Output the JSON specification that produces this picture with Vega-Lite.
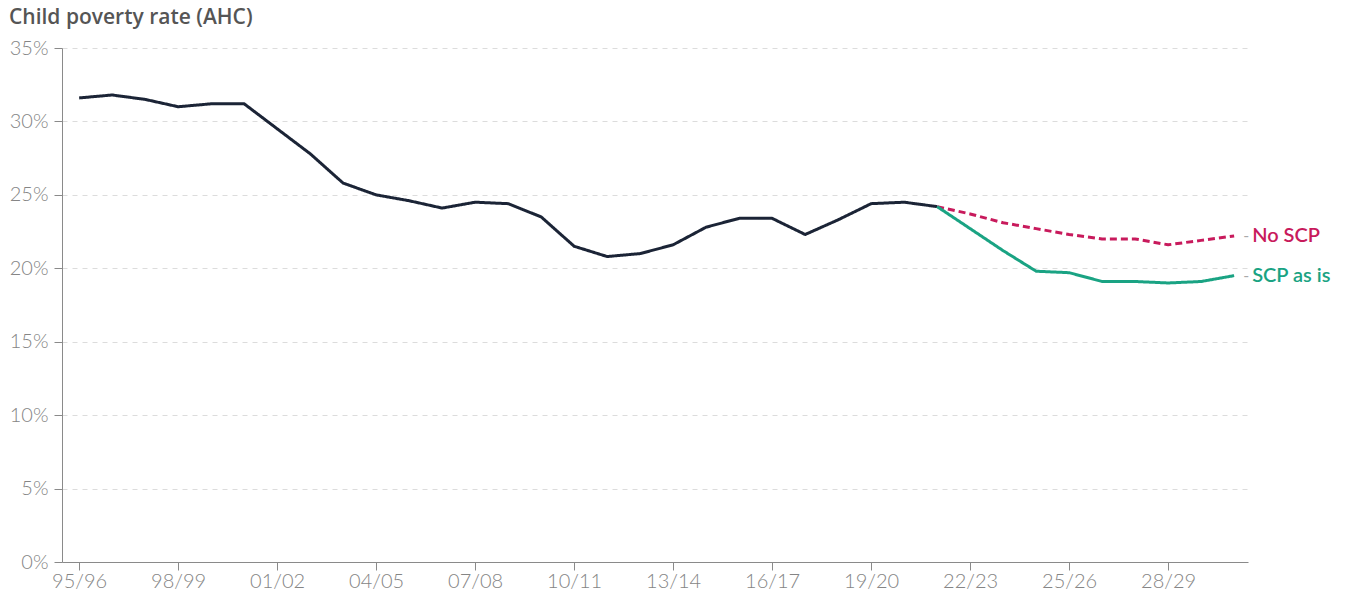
{
  "$schema": "https://vega.github.io/schema/vega-lite/v6.json",
  "autosize": {"type": "none"},
  "padding": {"left": 62, "top": 48, "right": 99, "bottom": 35},
  "width": 1186,
  "height": 514,
  "background": "white",
  "title": {
    "text": "Child poverty rate (AHC)",
    "anchor": "start",
    "frame": "group",
    "dx": -53,
    "offset": 10,
    "font": "Open Sans",
    "fontSize": 21,
    "fontWeight": 600,
    "color": "#555555"
  },
  "config": {
    "view": {"stroke": null},
    "axis": {
      "labelFont": "Lato",
      "labelFontWeight": 300,
      "labelFontSize": 20,
      "labelColor": "#858585",
      "domainColor": "#8a8a8a",
      "tickColor": "#8a8a8a",
      "tickSize": 8,
      "title": null
    }
  },
  "data": {
    "values": [
      {"year": 1995, "series": "Historic", "value": 31.6},
      {"year": 1996, "series": "Historic", "value": 31.8},
      {"year": 1997, "series": "Historic", "value": 31.5},
      {"year": 1998, "series": "Historic", "value": 31.0},
      {"year": 1999, "series": "Historic", "value": 31.2},
      {"year": 2000, "series": "Historic", "value": 31.2},
      {"year": 2001, "series": "Historic", "value": 29.5},
      {"year": 2002, "series": "Historic", "value": 27.8},
      {"year": 2003, "series": "Historic", "value": 25.8},
      {"year": 2004, "series": "Historic", "value": 25.0},
      {"year": 2005, "series": "Historic", "value": 24.6},
      {"year": 2006, "series": "Historic", "value": 24.1},
      {"year": 2007, "series": "Historic", "value": 24.5},
      {"year": 2008, "series": "Historic", "value": 24.4},
      {"year": 2009, "series": "Historic", "value": 23.5},
      {"year": 2010, "series": "Historic", "value": 21.5},
      {"year": 2011, "series": "Historic", "value": 20.8},
      {"year": 2012, "series": "Historic", "value": 21.0},
      {"year": 2013, "series": "Historic", "value": 21.6},
      {"year": 2014, "series": "Historic", "value": 22.8},
      {"year": 2015, "series": "Historic", "value": 23.4},
      {"year": 2016, "series": "Historic", "value": 23.4},
      {"year": 2017, "series": "Historic", "value": 22.3},
      {"year": 2018, "series": "Historic", "value": 23.3},
      {"year": 2019, "series": "Historic", "value": 24.4},
      {"year": 2020, "series": "Historic", "value": 24.5},
      {"year": 2021, "series": "Historic", "value": 24.2},
      {"year": 2021, "series": "No SCP", "value": 24.2},
      {"year": 2022, "series": "No SCP", "value": 23.7},
      {"year": 2023, "series": "No SCP", "value": 23.1},
      {"year": 2024, "series": "No SCP", "value": 22.7},
      {"year": 2025, "series": "No SCP", "value": 22.3},
      {"year": 2026, "series": "No SCP", "value": 22.0},
      {"year": 2027, "series": "No SCP", "value": 22.0},
      {"year": 2028, "series": "No SCP", "value": 21.6},
      {"year": 2029, "series": "No SCP", "value": 21.9},
      {"year": 2030, "series": "No SCP", "value": 22.2, "label": "No SCP"},
      {"year": 2021, "series": "SCP as is", "value": 24.2},
      {"year": 2022, "series": "SCP as is", "value": 22.7},
      {"year": 2023, "series": "SCP as is", "value": 21.2},
      {"year": 2024, "series": "SCP as is", "value": 19.8},
      {"year": 2025, "series": "SCP as is", "value": 19.7},
      {"year": 2026, "series": "SCP as is", "value": 19.1},
      {"year": 2027, "series": "SCP as is", "value": 19.1},
      {"year": 2028, "series": "SCP as is", "value": 19.0},
      {"year": 2029, "series": "SCP as is", "value": 19.1},
      {"year": 2030, "series": "SCP as is", "value": 19.5, "label": "SCP as is"}
    ]
  },
  "encoding": {
    "x": {
      "field": "year",
      "type": "quantitative",
      "scale": {"domain": [1994.48, 2030.42], "nice": false, "zero": false},
      "axis": {
        "values": [1995, 1998, 2001, 2004, 2007, 2010, 2013, 2016, 2019, 2022, 2025, 2028],
        "labelExpr": "slice('0' + (datum.value % 100), -2) + '/' + slice('0' + ((datum.value + 1) % 100), -2)",
        "grid": false,
        "labelPadding": 1,
        "labelFlush": false
      }
    },
    "y": {
      "field": "value",
      "type": "quantitative",
      "scale": {"domain": [0, 35], "nice": false},
      "axis": {
        "values": [0, 5, 10, 15, 20, 25, 30, 35],
        "labelExpr": "datum.value + '%'",
        "grid": true,
        "gridColor": "#dcdcdc",
        "gridDash": [5, 5],
        "gridWidth": 1,
        "labelPadding": 6
      }
    }
  },
  "layer": [
    {
      "mark": {"type": "line", "strokeWidth": 3, "strokeJoin": "round"},
      "encoding": {
        "color": {
          "field": "series",
          "type": "nominal",
          "scale": {"domain": ["Historic", "No SCP", "SCP as is"], "range": ["#1b2436", "#c81a5c", "#1aa383"]},
          "legend": null
        },
        "strokeDash": {
          "field": "series",
          "type": "nominal",
          "scale": {"domain": ["Historic", "No SCP", "SCP as is"], "range": [[1, 0], [7, 4], [1, 0]]},
          "legend": null
        }
      }
    },
    {
      "transform": [{"filter": "isValid(datum.label)"}],
      "mark": {"type": "text", "align": "left", "baseline": "middle", "dx": 9, "text": "-", "font": "Lato", "fontSize": 16, "color": "#aaaaaa"},
      "encoding": {}
    },
    {
      "transform": [{"filter": "isValid(datum.label)"}],
      "mark": {"type": "text", "align": "left", "baseline": "middle", "dx": 18, "font": "Lato", "fontSize": 20, "fontWeight": 600},
      "encoding": {
        "text": {"field": "label"},
        "color": {
          "field": "series",
          "type": "nominal",
          "scale": {"domain": ["Historic", "No SCP", "SCP as is"], "range": ["#1b2436", "#c81a5c", "#1aa383"]},
          "legend": null
        }
      }
    }
  ]
}
